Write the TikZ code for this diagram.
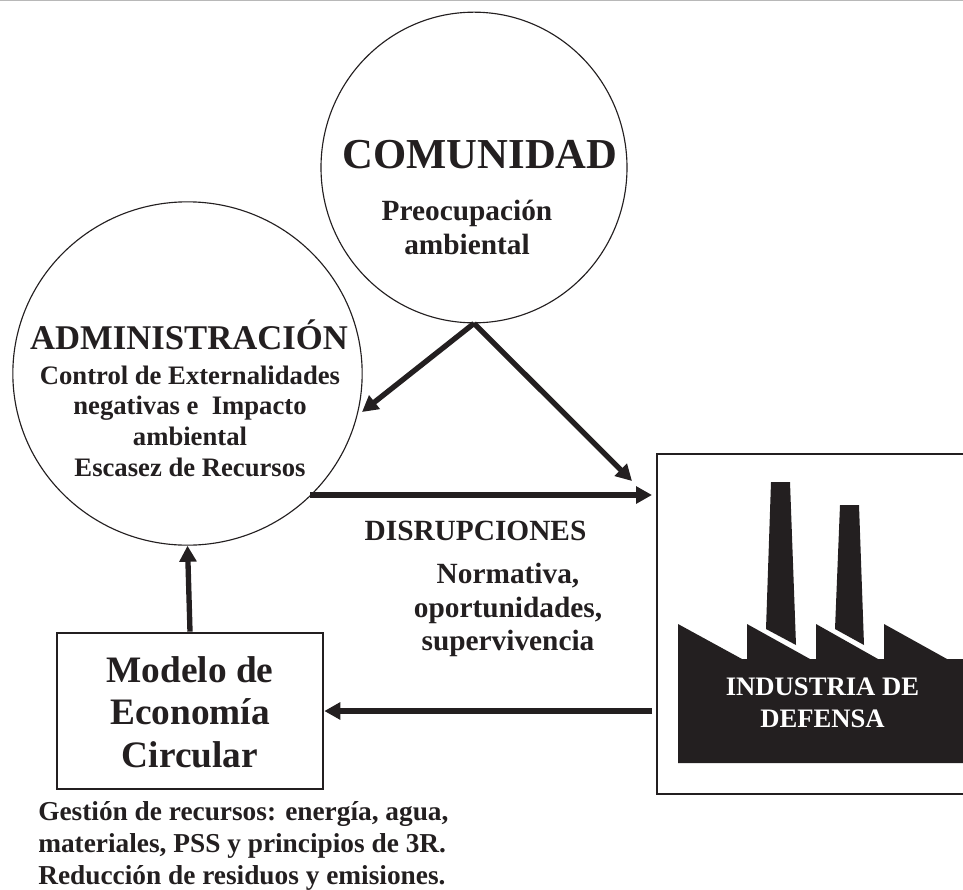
\documentclass[tikz,border=0pt]{standalone}
\usepackage{fontspec}
\setmainfont{Liberation Serif}
\usetikzlibrary{arrows.meta,shapes.geometric}
\definecolor{ink}{HTML}{231F20}
\tikzset{
  x=0.75pt,y=-0.75pt,
  ring/.style={ellipse,draw=ink,line width=0.85pt,fill=none,inner sep=0pt},
  frame/.style={rectangle,draw=ink,line width=#1,inner sep=0pt},
  label/.style={text=ink,align=center,inner sep=0pt},
  link/.style={draw=ink,line width=4pt,-{Triangle[length=12pt,width=12.5pt]}},
  factory/.style={fill=ink,draw=none}
}
\begin{document}
\begin{tikzpicture}
\useasboundingbox (0,0) rectangle (963,889);
\fill[black!28] (0,0) rectangle (963,1);
% circles
\node[ring,minimum width=229.5pt,minimum height=233pt] (com) at (474,167.5) {};
\node[ring,minimum width=262pt,minimum height=257.5pt] (adm) at (187.5,373.5) {};
% boxes
\node[frame=2pt,minimum width=199.5pt,minimum height=117pt] (mod) at (190,711) {};
\node[frame=1.4pt,minimum width=240pt,minimum height=255pt,anchor=north west] (ind) at (656,453) {};
% factory
\fill[factory] (771,482) -- (790,482) -- (796,645) -- (766,629) -- cycle;
\fill[factory] (840,505) -- (859,505) -- (864,645) -- (835,629) -- cycle;
\fill[factory] (678,763) -- (678,624) -- (742,659) -- (747,659) -- (747,624) -- (810,659) -- (816,659) -- (816,624) -- (878,659) -- (884,659) -- (884,624) -- (947,659) -- (963,659) -- (963,763) -- cycle;
% connectors
\coordinate (admIn) at (362,412);
\coordinate (indIn) at (632,481);
\coordinate (admOut) at (310,495);
\coordinate (indW) at (652,495);
\coordinate (indOut) at (652,711);
\draw[link] (com.south) -- (admIn);
\draw[link] (com.south) -- (indIn);
\draw[link] (admOut) -- (indW);
\draw[link] (mod.north) -- (adm.south);
\draw[link] (indOut) -- (mod.east);
% labels
\node[label,font=\bfseries\fontsize{32}{34}\selectfont] (t1) at (480,155) {COMUNIDAD};
\node[label,font=\bfseries\fontsize{22}{25.5}\selectfont] (t2) at (467,227) {Preocupación\\ambiental};
\node[label,font=\bfseries\fontsize{26}{28}\selectfont] (t3) at (189,335) {ADMINISTRACIÓN};
\node[label,font=\bfseries\fontsize{20}{23}\selectfont] (t4) at (190,421) {Control de Externalidades\\negativas e\ \ Impacto\\ambiental\\Escasez de Recursos};
\node[label,font=\bfseries\fontsize{22}{24}\selectfont] (t5) at (475.5,531) {DISRUPCIONES};
\node[label,font=\bfseries\fontsize{22}{25}\selectfont] (t6) at (508,610) {Normativa,\\oportunidades,\\supervivencia};
\node[label,font=\bfseries\fontsize{28}{32}\selectfont] (t7) at (190,712) {Modelo de\\Economía\\Circular};
\node[label,align=left,font=\bfseries\fontsize{20.5}{23.7}\selectfont,anchor=west] (t8) at (38,846) {Gestión de recursos: energía, agua,\\materiales, PSS y principios de 3R.\\Reducción de residuos y emisiones.};
\node[label,text=white,font=\bfseries\fontsize{20}{24}\selectfont] (t9) at (822.5,703) {INDUSTRIA DE\\DEFENSA};
\end{tikzpicture}
\end{document}
